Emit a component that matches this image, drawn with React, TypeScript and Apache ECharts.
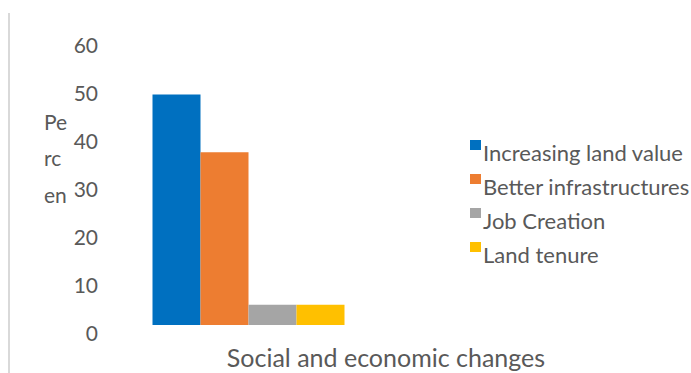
import React, { useEffect, useRef } from "react";
import * as echarts from "echarts";

const categories = ["Social and economic changes"];
const seriesNames = ["Increasing land value", "Better infrastructures", "Job Creation", "Land tenure"];
const seriesValues = [[48], [36], [4.2], [4.2]];
const seriesColors = ["#0070C0", "#ED7D31", "#A5A5A5", "#FFC000"];
const yTicks = [0, 10, 20, 30, 40, 50, 60];
const yAxisTitle = "Pe\nrc\nen";
const xAxisTitle = "Social and economic changes";

const FONT = "Lato, 'Open Sans', sans-serif";
const TEXT = "#595959";

export default function App() {
  const ref = useRef<HTMLDivElement>(null);
  useEffect(() => {
    if (!ref.current) return;
    const chart = echarts.init(ref.current, undefined, { renderer: "svg" });
    chart.setOption({
      animation: false,
      backgroundColor: "#ffffff",
      textStyle: { fontFamily: FONT },
      grid: { left: 110, width: 277, top: 37, bottom: 48, containLabel: false },
      legend: {
        orient: "vertical",
        left: 465,
        top: 135,
        itemWidth: 11,
        itemHeight: 24,
        itemGap: 10,
        icon: "path://M0,0H11V10H0Z M0,24L0.01,24Z",
        textStyle: { fontSize: 22, color: TEXT, fontFamily: FONT, padding: [0, 0, 0, -3] },
        data: seriesNames,
      },
      xAxis: {
        type: "category",
        data: categories,
        axisLine: { show: false },
        axisTick: { show: false },
        axisLabel: { show: false },
      },
      yAxis: {
        type: "value",
        min: yTicks[0],
        max: yTicks[yTicks.length - 1],
        interval: 10,
        axisLine: { show: false },
        axisTick: { show: false },
        splitLine: { show: false },
        axisLabel: {
          fontSize: 21,
          color: TEXT,
          fontFamily: FONT,
          margin: 12,
          verticalAlign: "top",
          lineHeight: 14,
        },
      },
      graphic: [
        {
          type: "line",
          shape: { x1: 9, y1: 13, x2: 9, y2: 373 },
          style: { stroke: "#d9d9d9", lineWidth: 2 },
          silent: true,
        },
        {
          type: "text",
          left: 44,
          top: 103,
          style: {
            text: yAxisTitle,
            fontSize: 21,
            lineHeight: 36.5,
            fill: TEXT,
            fontFamily: FONT,
          },
        },
        {
          type: "text",
          x: 386,
          y: 357,
          style: {
            text: xAxisTitle,
            fontSize: 25,
            fill: TEXT,
            fontFamily: FONT,
            align: "center",
            verticalAlign: "middle",
          },
        },
      ],
      series: seriesNames.map((name, i) => ({
        name,
        type: "bar",
        data: seriesValues[i],
        barWidth: 48,
        barGap: "0%",
        itemStyle: { color: seriesColors[i] },
      })),
    });
    return () => chart.dispose();
  }, []);
  return (
    <div
      ref={ref}
      style={{ position: "fixed", left: 0, top: 0, width: 691, height: 373 }}
    />
  );
}
